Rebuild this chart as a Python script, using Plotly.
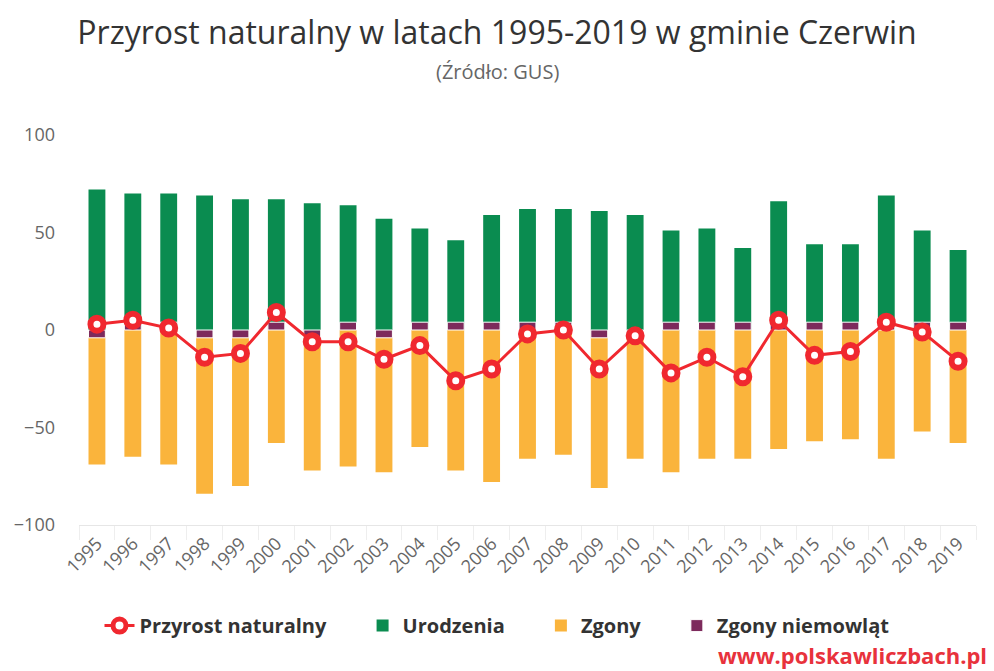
import plotly.graph_objects as go

years = [str(y) for y in range(1995, 2020)]
urodzenia = [72, 70, 70, 69, 67, 67, 65, 64, 57, 52, 46, 59, 62, 62, 61, 59, 51, 52, 42, 66, 44, 44, 69, 51, 41]
zgony = [69, 65, 69, 84, 80, 58, 72, 70, 73, 60, 72, 78, 66, 64, 81, 66, 73, 66, 66, 61, 57, 56, 66, 52, 58]
przyrost = [3, 5, 1, -14, -12, 9, -6, -6, -15, -8, -26, -20, -2, 0, -20, -3, -22, -14, -24, 5, -13, -11, 4, -1, -16]
zgony_niemowlat = [1, 0, 0, 1, 1, 0, 1, 0, 1, 0, 0, 0, 0, 0, 1, 1, 0, 0, 0, 0, 0, 0, 0, 0, 0]

MIN_LEN = 4  # minimum visible bar length (axis units), as in the original chart
neg_zgony = [-v for v in zgony]
niem_disp = [(-max(v, MIN_LEN) if v > 0 else MIN_LEN) for v in zgony_niemowlat]

GREEN = "#0a8c50"
ORANGE = "#fab43c"
PURPLE = "#7d2a5c"
RED = "#f0282f"
FONT = "Open Sans"
PAD = "\u00a0" * 6  # extra spacing between legend entries
PAGE_CENTER = (497 - 79) / 897  # page centre expressed in plot-paper fraction

fig = go.Figure()
fig.add_trace(go.Bar(x=years, y=urodzenia, name="Urodzenia" + PAD, marker=dict(color=GREEN, line=dict(width=0)),
                     width=0.47, legendrank=2, hoverinfo="skip"))
fig.add_trace(go.Bar(x=years, y=neg_zgony, name="Zgony" + PAD, marker=dict(color=ORANGE, line=dict(width=0)),
                     width=0.47, legendrank=3, hoverinfo="skip"))
fig.add_trace(go.Bar(x=years, y=niem_disp, name="Zgony niemowląt",
                     marker=dict(color=PURPLE, line=dict(width=1, color="white")),
                     width=0.47, legendrank=4, hoverinfo="skip"))
fig.add_trace(go.Scatter(x=years, y=przyrost, name="Przyrost naturalny" + PAD, mode="lines+markers",
                         line=dict(color=RED, width=3),
                         marker=dict(size=13, color="white", line=dict(color=RED, width=6)),
                         legendrank=1, hoverinfo="skip"))

fig.update_layout(
    width=994, height=671,
    barmode="overlay",
    plot_bgcolor="white", paper_bgcolor="white",
    margin=dict(l=79, r=18, t=135, b=146),
    font=dict(family=FONT, color="#666666"),
    title=dict(text="Przyrost naturalny w latach 1995-2019 w gminie Czerwin",
               x=0.5, xanchor="center", y=0.951, yanchor="middle",
               font=dict(size=32, color="#333333", family=FONT)),
    showlegend=True,
    legend=dict(orientation="h", x=PAGE_CENTER, xanchor="center", y=-0.258, yanchor="middle",
                font=dict(size=20, color="#333333", family=FONT, weight="bold"),
                itemwidth=30, traceorder="normal"),
    annotations=[
        dict(text="(Źródło: GUS)", xref="paper", yref="paper", x=PAGE_CENTER, y=1.0, yshift=64,
             showarrow=False, xanchor="center", yanchor="middle",
             font=dict(size=20, color="#666666", family=FONT)),
        dict(text="<b>www.polskawliczbach.pl</b>", xref="paper", yref="paper", x=1.0, xshift=13,
             y=0, yshift=-130, showarrow=False, xanchor="right", yanchor="middle",
             font=dict(size=22, color="#e8323c", family=FONT)),
    ],
)
fig.update_xaxes(type="category", range=[-0.5, 24.5], tickangle=-45, tickfont=dict(size=18, color="#666666"),
                 showline=True, linecolor="#e6e6e6", linewidth=1, automargin=False,
                 ticks="outside", ticklen=14, tickcolor="#eeeeee", tickson="boundaries",
                 showgrid=False)
fig.update_yaxes(range=[-100, 100], tickvals=[-100, -50, 0, 50, 100], automargin=False,
                 tickfont=dict(size=18, color="#666666"), showgrid=False, zeroline=False,
                 ticklabelstandoff=23)

fig.write_html("out.html", post_script="document.body.style.margin='0';",
               config={"displayModeBar": False})
